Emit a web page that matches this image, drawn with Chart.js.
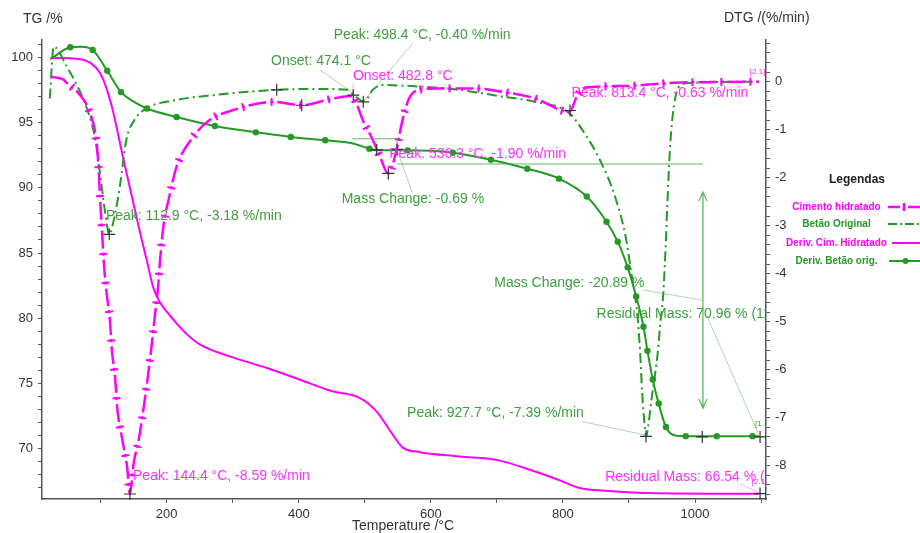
<!DOCTYPE html>
<html>
<head>
<meta charset="utf-8">
<script src="https://cdn.jsdelivr.net/npm/chart.js@4.4.1/dist/chart.umd.min.js"></script>
<style>
  html, body { margin: 0; padding: 0; background: #fff; }
</style>
</head>
<body>
<canvas id="tga" width="920" height="533"></canvas>
<script>
// TG curves (left axis, %)
const cimTgT = [24, 59, 84, 99, 109, 119, 134, 160, 170, 180, 190, 200, 210, 230, 250, 300, 351, 401, 451, 492, 517, 542, 557, 582, 643, 703, 743, 794, 824, 869, 945, 1097];
const cimTg = [99.95, 99.92, 99.6, 98.8, 97.6, 95.8, 92.3, 86.5, 84.4, 82.3, 81.2, 80.5, 79.9, 78.8, 78.0, 77.0, 76.2, 75.3, 74.4, 73.9, 72.9, 71.1, 70.1, 69.75, 69.4, 69.1, 68.5, 67.6, 67.0, 66.75, 66.58, 66.54];

const betaoTgT = [24, 54, 71, 88, 110, 131, 150, 170, 215, 273, 335, 388, 440, 479, 507, 519, 565, 633, 691, 746, 794, 836, 866, 883, 898, 911, 922, 928, 936, 945, 956, 970, 986, 1033, 1087, 1097];
const betaoTg = [99.85, 100.77, 100.82, 100.56, 98.97, 97.33, 96.6, 96.08, 95.43, 94.74, 94.25, 93.9, 93.64, 93.43, 93.0, 92.87, 92.87, 92.69, 92.15, 91.46, 90.7, 89.33, 87.4, 85.87, 83.9, 81.66, 79.35, 77.5, 75.3, 73.46, 71.66, 71.0, 70.96, 70.96, 70.96, 70.96];
const betaoDotT = [54, 88, 110, 131, 170, 215, 273, 335, 388, 440, 507, 565, 633, 691, 746, 794, 836, 866, 883, 898, 911, 922, 928, 936, 945, 956, 986, 1033, 1087];

// DTG curves (right axis, %/min)
const betaoDtgT = [23, 29, 49, 64, 80, 92, 99, 107, 113, 122, 129, 139, 152, 170, 215, 270, 366, 432, 474, 482, 497, 502, 512, 525, 582, 643, 708, 758, 810, 833, 856, 879, 896, 902, 913, 917, 920, 924, 926, 929, 934, 939, 944, 947, 952, 955, 958, 962, 966, 974, 987, 1097];
const betaoDtg = [-0.35, 0.73, 0.31, -0.07, -0.59, -1.21, -1.91, -2.74, -3.18, -2.74, -2.19, -1.21, -0.78, -0.55, -0.38, -0.28, -0.17, -0.15, -0.17, -0.26, -0.40, -0.38, -0.17, -0.07, -0.10, -0.17, -0.31, -0.42, -0.66, -1.08, -1.63, -2.40, -3.30, -3.85, -4.90, -5.66, -6.49, -7.19, -7.39, -7.19, -6.63, -6.15, -5.59, -5.10, -4.41, -3.60, -2.60, -1.42, -0.73, -0.14, -0.03, 0];

const cimDtgT = [26, 44, 49, 69, 82, 94, 97, 99, 102, 105, 109, 114, 117, 122, 125, 132, 140, 144.4, 150, 157, 163, 170, 177, 182, 187, 190, 195, 205, 215, 240, 265, 301, 361, 404, 452, 479, 487, 497, 512, 525, 535, 547, 557, 567, 582, 608, 668, 708, 758, 810, 821, 834, 894, 970, 1097];
const cimDtg = [0.10, 0.04, -0.03, -0.28, -0.59, -1.28, -1.84, -2.40, -3.10, -3.80, -4.40, -4.97, -5.59, -6.18, -6.77, -7.40, -8.02, -8.59, -7.95, -7.50, -7.00, -6.30, -5.52, -4.89, -4.27, -3.71, -3.02, -2.33, -1.77, -1.15, -0.80, -0.59, -0.42, -0.49, -0.35, -0.30, -0.45, -0.80, -1.21, -1.63, -1.91, -1.49, -0.80, -0.35, -0.17, -0.14, -0.14, -0.21, -0.35, -0.63, -0.31, -0.12, -0.09, -0.02, 0];

// axis ticks
const tempTicks = [100, 200, 300, 400, 500, 600, 700, 800, 900, 1000, 1100];
const tempLabels = [200, 400, 600, 800, 1000];

const seriesNames = ['Cimento hidratado', 'Betão Original', 'Deriv. Cim. Hidratado', 'Deriv. Betão orig.'];

// analysis labels: text, temperature, DTG value, colour
const notes = [
  ['Peak: 498.4 °C, -0.40 %/min', 453, 0.98, 'g'],
  ['Onset: 474.1 °C', 358, 0.42, 'g'],
  ['Onset: 482.8 °C', 482, 0.12, 'm'],
  ['Peak: 536.3 °C, -1.90 %/min', 537, -1.51, 'm'],
  ['Mass Change: -0.69 %', 465, -2.45, 'g'],
  ['Peak: 813.4 °C, -0.63 %/min', 813, -0.24, 'm'],
  ['Peak: 112.9 °C, -3.18 %/min', 108, -2.81, 'g'],
  ['Mass Change: -20.89 %', 696, -4.19, 'g'],
  ['Residual Mass: 70.96 % (1100.0 °C)', 851, -4.85, 'g'],
  ['Peak: 927.7 °C, -7.39 %/min', 564, -6.90, 'g'],
  ['Peak: 144.4 °C, -8.59 %/min', 149, -8.21, 'm'],
  ['Residual Mass: 66.54 % (1100.0 °C)', 864, -8.23, 'm']
];
const smallNotes = [['[2.1]', 1083, 0.21, 'm'], ['[1.1]', 1091, -7.13, 'g'], ['[2.1]', 1086, -8.34, 'm']];
const crossMarks = [[113, -3.18], [144.4, -8.59], [366.6, -0.17], [404.5, -0.49], [482.6, -0.28], [497.7, -0.42],
  [518, -1.42], [549, -1.41], [535.6, -1.91], [810.7, -0.60], [925.8, -7.39], [1011, -7.40], [1098.5, -7.40], [1098.5, -8.58]];
const leaders = [
  [573, 0.806, 497.7, -0.42, 'g'], [432, 0.244, 480, -0.21, 'g'], [482, -0.03, 482, -0.235, 'm'],
  [549, -1.42, 571.5, -2.30, 'g'], [921.3, -4.34, 1010.7, -4.55, 'g'], [1018, -4.88, 1095.5, -7.32, 'g'],
  [829, -7.08, 924.3, -7.36, 'g'], [1068, -8.38, 1098.5, -8.57, 'm']
];

const GREEN = '#239a23';
const GREEN_TXT = '#3d9f3d';
const MAG = '#ff00ff';
const MAG_TXT = '#ff30ff';
const FONT = '"Liberation Sans", Arial, sans-serif';

Chart.defaults.font.family = FONT;

function pts(xs, ys) {
  return xs.map((t, i) => ({ x: t, y: ys[i] }));
}

function sampleCurve(p) {
  const out = [[p[0].x, p[0].y]];
  for (let i = 0; i < p.length - 1; i++) {
    const a = p[i], b = p[i + 1];
    const c1x = a.cp2x ?? a.x, c1y = a.cp2y ?? a.y, c2x = b.cp1x ?? b.x, c2y = b.cp1y ?? b.y;
    for (let s = 1; s <= 20; s++) {
      const t = s / 20, u = 1 - t;
      out.push([
        u * u * u * a.x + 3 * u * u * t * c1x + 3 * u * t * t * c2x + t * t * t * b.x,
        u * u * u * a.y + 3 * u * u * t * c1y + 3 * u * t * t * c2y + t * t * t * b.y
      ]);
    }
  }
  return out;
}

const overlay = {
  id: 'overlay',
  afterDatasetsDraw(chart) {
    const ctx = chart.ctx;
    const x = chart.scales.x, yR = chart.scales.yR, area = chart.chartArea;
    const px = t => x.getPixelForValue(t);
    const py = v => yR.getPixelForValue(v);

    // cross ticks along the hydrated cement DTG line
    const meta = chart.getDatasetMeta(0);
    const path = sampleCurve(meta.data);
    ctx.save();
    ctx.beginPath();
    ctx.rect(area.left, area.top, area.right - area.left, area.bottom - area.top);
    ctx.clip();
    ctx.beginPath();
    let next = 23.5, acc = 0;
    for (let i = 1; i < path.length; i++) {
      const [x0, y0] = path[i - 1], [x1, y1] = path[i];
      const len = Math.hypot(x1 - x0, y1 - y0);
      if (len === 0) continue;
      while (acc + len >= next) {
        const f = (next - acc) / len;
        const cx = x0 + f * (x1 - x0), cy = y0 + f * (y1 - y0);
        const nx = -(y1 - y0) / len, ny = (x1 - x0) / len;
        ctx.moveTo(cx - nx * 4, cy - ny * 4);
        ctx.lineTo(cx + nx * 4, cy + ny * 4);
        next += 29;
      }
      acc += len;
    }
    ctx.strokeStyle = MAG;
    ctx.lineWidth = 2;
    ctx.stroke();
    ctx.restore();

    ctx.save();
    ctx.beginPath();
    ctx.rect(0, 0, area.right, chart.height);
    ctx.clip();

    // thin leader lines
    ctx.lineWidth = 0.8;
    leaders.forEach(l => {
      ctx.strokeStyle = l[4] === 'g' ? 'rgba(90,165,90,0.6)' : 'rgba(255,80,255,0.6)';
      ctx.beginPath();
      ctx.moveTo(px(l[0]), py(l[1]));
      ctx.lineTo(px(l[2]), py(l[3]));
      ctx.stroke();
    });

    // mass change step box, level line and double arrow
    ctx.strokeStyle = 'rgba(70,170,70,0.85)';
    ctx.lineWidth = 1;
    ctx.beginPath();
    ctx.moveTo(px(481), py(-1.19));
    ctx.lineTo(px(549), py(-1.19));
    ctx.lineTo(px(549), py(-1.42));
    ctx.moveTo(px(549), py(-1.715));
    ctx.lineTo(px(1012), py(-1.715));
    ctx.stroke();
    ctx.lineWidth = 1.3;
    const ax = px(1012), ayTop = py(-2.30), ayBot = py(-6.80);
    ctx.beginPath();
    ctx.moveTo(ax, ayTop);
    ctx.lineTo(ax, ayBot);
    ctx.moveTo(ax - 4, ayTop + 9);
    ctx.lineTo(ax, ayTop);
    ctx.lineTo(ax + 4, ayTop + 9);
    ctx.moveTo(ax - 4, ayBot - 9);
    ctx.lineTo(ax, ayBot);
    ctx.lineTo(ax + 4, ayBot - 9);
    ctx.stroke();

    // cross markers
    ctx.strokeStyle = '#333';
    ctx.lineWidth = 1.2;
    ctx.beginPath();
    crossMarks.forEach(m => {
      const cx = px(m[0]), cy = py(m[1]);
      ctx.moveTo(cx - 6, cy); ctx.lineTo(cx + 6, cy);
      ctx.moveTo(cx, cy - 6); ctx.lineTo(cx, cy + 6);
    });
    ctx.stroke();

    // labels
    ctx.textBaseline = 'middle';
    ctx.textAlign = 'left';
    ctx.font = '14px ' + FONT;
    notes.forEach(n => {
      ctx.fillStyle = n[3] === 'g' ? GREEN_TXT : MAG_TXT;
      ctx.fillText(n[0], px(n[1]), py(n[2]));
    });
    ctx.font = '8px ' + FONT;
    smallNotes.forEach(n => {
      ctx.fillStyle = n[3] === 'g' ? GREEN_TXT : MAG_TXT;
      ctx.fillText(n[0], px(n[1]), py(n[2]));
    });
    ctx.restore();
  },
  afterDraw(chart) {
    const ctx = chart.ctx;
    ctx.save();
    ctx.fillStyle = '#333';
    ctx.textBaseline = 'middle';
    ctx.textAlign = 'left';
    ctx.font = '14px ' + FONT;
    ctx.fillText('TG /%', 23, 19);
    ctx.fillText('DTG /(%/min)', 724, 18);
    ctx.fillText('Temperature /°C', 352, 526);

    // legend
    ctx.fillStyle = '#222';
    ctx.textAlign = 'center';
    ctx.font = 'bold 12px ' + FONT;
    ctx.fillText('Legendas', 857, 180);
    ctx.font = 'bold 10px ' + FONT;
    const rows = [207, 224, 243, 261];
    const cols = [MAG, GREEN, MAG, GREEN];
    seriesNames.forEach((name, i) => {
      ctx.fillStyle = cols[i];
      ctx.fillText(name, 836.5, rows[i]);
    });
    ctx.lineWidth = 2.5;
    ctx.strokeStyle = MAG;
    ctx.beginPath();
    ctx.moveTo(888, 207); ctx.lineTo(900, 207);
    ctx.moveTo(908, 207); ctx.lineTo(920, 207);
    ctx.moveTo(904, 203); ctx.lineTo(904, 211);
    ctx.stroke();
    ctx.lineWidth = 2;
    ctx.strokeStyle = GREEN;
    ctx.setLineDash([9, 3, 2, 3]);
    ctx.beginPath();
    ctx.moveTo(888, 224); ctx.lineTo(920, 224);
    ctx.stroke();
    ctx.setLineDash([]);
    ctx.strokeStyle = MAG;
    ctx.beginPath();
    ctx.moveTo(892, 243); ctx.lineTo(920, 243);
    ctx.stroke();
    ctx.strokeStyle = GREEN;
    ctx.beginPath();
    ctx.moveTo(889, 261); ctx.lineTo(920, 261);
    ctx.stroke();
    ctx.fillStyle = GREEN;
    ctx.beginPath();
    ctx.arc(905.5, 261, 3, 0, Math.PI * 2);
    ctx.fill();
    ctx.restore();
  }
};

const axisLine = { display: true, color: '#555', width: 1.5 };
const tickGrid = { drawOnChartArea: false, drawTicks: true, tickLength: 4, color: '#555', lineWidth: 1 };

new Chart(document.getElementById('tga'), {
  type: 'line',
  data: {
    datasets: [
      {
        label: seriesNames[0],
        data: pts(cimDtgT, cimDtg),
        yAxisID: 'yR',
        borderColor: MAG,
        borderWidth: 2.5,
        borderDash: [18, 4, 3, 4],
        pointRadius: 0,
        cubicInterpolationMode: 'monotone'
      },
      {
        label: seriesNames[1],
        data: pts(betaoDtgT, betaoDtg),
        yAxisID: 'yR',
        borderColor: GREEN,
        borderWidth: 2,
        borderDash: [10, 4, 2, 4],
        pointRadius: 0,
        cubicInterpolationMode: 'monotone'
      },
      {
        label: seriesNames[2],
        data: pts(cimTgT, cimTg),
        yAxisID: 'yL',
        borderColor: MAG,
        borderWidth: 2,
        pointRadius: 0,
        cubicInterpolationMode: 'monotone'
      },
      {
        label: seriesNames[3],
        data: pts(betaoTgT, betaoTg),
        yAxisID: 'yL',
        borderColor: GREEN,
        borderWidth: 2,
        pointRadius: ctx => (ctx.raw && betaoDotT.includes(ctx.raw.x)) ? 3.2 : 0,
        pointBackgroundColor: GREEN,
        pointBorderWidth: 0,
        cubicInterpolationMode: 'monotone'
      }
    ]
  },
  options: {
    responsive: false,
    animation: false,
    devicePixelRatio: 1,
    layout: { padding: { top: 40, left: 0, right: 0, bottom: 0 } },
    plugins: {
      legend: { display: false },
      tooltip: { enabled: false }
    },
    scales: {
      x: {
        type: 'linear',
        min: 11.2,
        max: 1107.5,
        afterBuildTicks: s => { s.ticks = tempTicks.map(v => ({ value: v })); },
        afterFit: s => { s.height = 34; },
        border: axisLine,
        grid: tickGrid,
        ticks: {
          autoSkip: false,
          maxRotation: 0,
          padding: 4,
          color: '#333',
          font: { size: 13 },
          callback: v => (tempLabels.includes(v) ? String(v) : '')
        }
      },
      yL: {
        position: 'left',
        min: 66.14,
        max: 101.33,
        afterFit: s => { s.width = 42; },
        border: axisLine,
        grid: tickGrid,
        ticks: {
          stepSize: 1,
          autoSkip: false,
          includeBounds: false,
          padding: 5,
          color: '#333',
          font: { size: 13 },
          callback: v => (Math.abs(v % 5) < 1e-6 ? v : '')
        }
      },
      yR: {
        position: 'right',
        min: -8.694,
        max: 0.869,
        afterFit: s => { s.width = 154; },
        border: axisLine,
        grid: tickGrid,
        ticks: {
          stepSize: 0.2,
          autoSkip: false,
          includeBounds: false,
          padding: 5,
          color: '#333',
          font: { size: 13 },
          callback: v => (Math.abs(v - Math.round(v)) < 1e-6 ? String(Math.round(v)) : '')
        }
      }
    }
  },
  plugins: [overlay]
});
</script>
</body>
</html>
